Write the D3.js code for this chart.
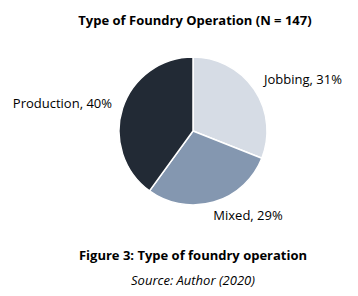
<!DOCTYPE html>
<html>
<head>
<meta charset="utf-8">
<script src="https://cdn.jsdelivr.net/npm/d3@7"></script>
<style>
  body { margin: 0; background: #fff; }
  text { font-family: "Open Sans", sans-serif; fill: #000; }
</style>
</head>
<body>
<div id="viz"></div>
<script>
const width = 358;
const height = 296;

// data
const categories = ['Jobbing', 'Mixed', 'Production'];
const shares = [31, 29, 40];
const colors = ['#d6dce5', '#8497b0', '#222a35'];

const cx = 193, cy = 131, radius = 74;

const svg = d3.select('#viz')
  .append('svg')
    .attr('width', width)
    .attr('height', height);

svg.append('text')
  .attr('x', 195)
  .attr('y', 25)
  .attr('text-anchor', 'middle')
  .attr('font-weight', 'bold')
  .attr('font-size', 13)
  .text('Type of Foundry Operation (N = 147)');

const data = categories.map((c, i) => ({name: c, value: shares[i], color: colors[i]}));

const pie = d3.pie().sort(null).value(d => d.value);
const arc = d3.arc().innerRadius(0).outerRadius(radius);

const g = svg.append('g').attr('transform', `translate(${cx},${cy})`);

g.selectAll('path')
  .data(pie(data))
  .join('path')
    .attr('d', arc)
    .attr('fill', d => d.data.color)
    .attr('stroke', '#fff')
    .attr('stroke-width', 1.5);

// labels outside
const labelPos = [
  {x: 264, y: 84, anchor: 'start'},
  {x: 248, y: 220, anchor: 'middle'},
  {x: 112, y: 108, anchor: 'end'}
];
svg.append('g')
  .selectAll('text')
  .data(data)
  .join('text')
    .attr('x', (d, i) => labelPos[i].x)
    .attr('y', (d, i) => labelPos[i].y)
    .attr('text-anchor', (d, i) => labelPos[i].anchor)
    .attr('font-size', 13)
    .text(d => `${d.name}, ${d.value}%`);

svg.append('text')
  .attr('x', 193)
  .attr('y', 260)
  .attr('text-anchor', 'middle')
  .attr('font-weight', 'bold')
  .attr('font-size', 13)
  .text('Figure 3: Type of foundry operation');

svg.append('text')
  .attr('x', 193)
  .attr('y', 285)
  .attr('text-anchor', 'middle')
  .attr('font-style', 'italic')
  .attr('font-size', 13)
  .text('Source: Author (2020)');
</script>
</body>
</html>
